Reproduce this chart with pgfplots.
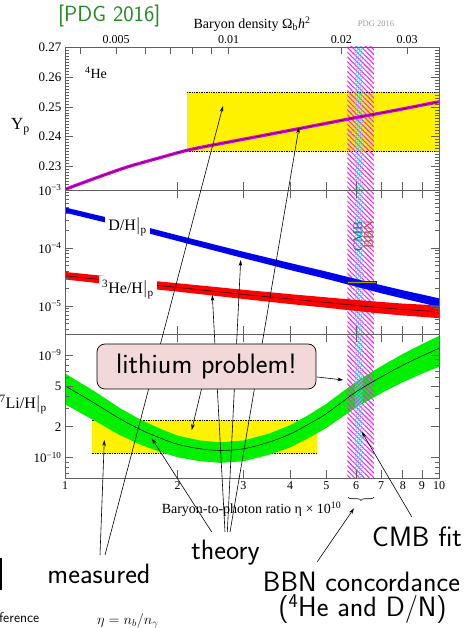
\documentclass[border=0pt]{standalone}
\usepackage{fontspec}
\setmainfont{Liberation Serif}
\usepackage{pgfplots}
\pgfplotsset{compat=1.18}
\usetikzlibrary{patterns.meta,arrows.meta,decorations.pathreplacing}

\definecolor{hatchmag}{RGB}{245,40,245}
\definecolor{hatchcyan}{RGB}{70,215,255}
\definecolor{framegray}{RGB}{95,95,95}
\definecolor{ypmag}{RGB}{215,0,215}
\definecolor{ypdark}{RGB}{110,0,110}
\definecolor{ligreen}{RGB}{0,240,0}
\definecolor{boxpink}{RGB}{242,216,216}
\definecolor{pdggreen}{RGB}{34,139,34}
\definecolor{cmbteal}{RGB}{30,110,140}
\definecolor{bbnbrown}{RGB}{165,85,50}
\definecolor{dholive}{RGB}{165,160,0}

\tikzset{
  hatchBBN/.style={draw=none, pattern={Lines[angle=-45,distance=3.4pt,line width=1.1pt]}, pattern color=hatchmag},
  hatchCMB/.style={draw=none, pattern={Lines[angle=45,distance=2.6pt,line width=0.9pt]}, pattern color=hatchcyan},
}

\begin{document}
\begin{tikzpicture}
\path[use as bounding box] (0,0) rectangle (474pt,628pt);

% ---------------- Top panel: Yp ----------------
\begin{axis}[scale only axis, width=374pt, height=143pt, at={(65pt,438pt)}, anchor=south west,
  xmode=log, xmin=1, xmax=10, ymin=0.2222, ymax=0.27,
  axis on top, axis line style={framegray, line width=0.6pt},
  tick style={framegray, line width=0.6pt}, tick align=inside,
  major tick length=8pt, minor tick length=4pt, scaled y ticks=false,
  yticklabel style={font=\fontsize{13}{15}\selectfont},
  xtick={2,3,4,5,6,7,8,9}, xticklabels={}, xtick pos=left,
  ytick={0.23,0.24,0.25,0.26,0.27}, yticklabels={0.23,0.24,0.25,0.26,0.27},
  minor ytick={0.223,0.224,0.225,0.226,0.227,0.228,0.229,0.231,0.232,0.233,0.234,0.235,0.236,0.237,0.238,0.239,0.241,0.242,0.243,0.244,0.245,0.246,0.247,0.248,0.249,0.251,0.252,0.253,0.254,0.255,0.256,0.257,0.258,0.259,0.261,0.262,0.263,0.264,0.265,0.266,0.267,0.268,0.269}]
\addplot[fill=yellow, draw=none] coordinates {(2.12,0.235) (10,0.235) (10,0.255) (2.12,0.255)};
\addplot[black, densely dotted, line width=0.7pt] coordinates {(2.12,0.255) (10,0.255)};
\addplot[black, densely dotted, line width=0.7pt] coordinates {(2.12,0.235) (10,0.235)};
\addplot[hatchBBN] coordinates {(5.685,0.2222) (6.70,0.2222) (6.70,0.27) (5.685,0.27)};
\addplot[hatchCMB] coordinates {(5.965,0.2222) (6.245,0.2222) (6.245,0.27) (5.965,0.27)};
\addplot[ypmag, line width=3.2pt, smooth] coordinates {(1,0.2224) (1.19,0.2259) (1.46,0.2298) (1.795,0.2330) (2.16,0.2357) (2.76,0.2383) (4.22,0.2427) (6.0,0.2464) (7.7,0.2489) (10,0.2517)};
\addplot[ypdark, line width=0.7pt, smooth] coordinates {(1,0.2224) (1.19,0.2259) (1.46,0.2298) (1.795,0.2330) (2.16,0.2357) (2.76,0.2383) (4.22,0.2427) (6.0,0.2464) (7.7,0.2489) (10,0.2517)};
\end{axis}

% top axis: Omega_b h^2
\begin{axis}[scale only axis, at={(65pt,438pt)}, anchor=south west, width=374pt, height=143pt,
  xmode=log, xmin=1, xmax=10, ymin=0, ymax=1,
  axis x line*=top, axis y line=none,
  axis line style={framegray, line width=0.6pt},
  tick style={framegray, line width=0.6pt}, tick align=inside, major tick length=7pt,
  xtick={1.0956,1.3695,1.6434,1.9173,2.1912,2.4651,2.739,5.478,8.217},
  xticklabels={,0.005,,,,,0.01,0.02,0.03},
  xticklabel style={font=\fontsize{12}{14}\selectfont}]
\addplot[draw=none] coordinates {(1,0.5) (10,0.5)};
\end{axis}

% ---------------- Middle panel: D/H, 3He/H ----------------
\begin{axis}[scale only axis, width=374pt, height=144pt, at={(65pt,294pt)}, anchor=south west,
  xmode=log, xmin=1, xmax=10, ymode=log, ymin=3.29e-6, ymax=1e-3,
  axis on top, axis line style={framegray, line width=0.6pt},
  tick style={framegray, line width=0.6pt}, tick align=inside,
  major tick length=8pt, minor tick length=4pt,
  yticklabel style={font=\fontsize{13}{15}\selectfont},
  xtick={2,3,4,5,6,7,8,9}, xticklabels={},
  ytick={1e-5,1e-4,1e-3}, yticklabels={10\textsuperscript{−5},10\textsuperscript{−4},10\textsuperscript{−3}},
  minor ytick={4e-6,5e-6,6e-6,7e-6,8e-6,9e-6,2e-5,3e-5,4e-5,5e-5,6e-5,7e-5,8e-5,9e-5,2e-4,3e-4,4e-4,5e-4,6e-4,7e-4,8e-4,9e-4}]
\addplot[hatchBBN] coordinates {(5.685,3.29e-6) (6.70,3.29e-6) (6.70,1e-3) (5.685,1e-3)};
\addplot[hatchCMB] coordinates {(5.965,3.29e-6) (6.245,3.29e-6) (6.245,1e-3) (5.965,1e-3)};
% D/H band: upper edge then lower edge reversed
\addplot[fill=blue, draw=none] coordinates {(1,5.01e-4) (1.5,2.68e-4) (2,1.66e-4) (3,8.61e-5) (4,5.50e-5) (5,3.92e-5) (6,2.92e-5) (7,2.29e-5) (8,1.87e-5) (9,1.58e-5) (10,1.355e-5)
  (10,9.59e-6) (9,1.13e-5) (8,1.35e-5) (7,1.66e-5) (6,2.16e-5) (5,2.93e-5) (4,4.17e-5) (3,6.68e-5) (2,1.32e-4) (1.5,2.15e-4) (1,4.07e-4)};
\addplot[black!55!blue, line width=0.5pt, smooth] coordinates {(1,4.52e-4) (1.5,2.40e-4) (2,1.48e-4) (3,7.59e-5) (4,4.79e-5) (5,3.39e-5) (6,2.51e-5) (7,1.95e-5) (8,1.585e-5) (9,1.33e-5) (10,1.14e-5)};
% 3He/H band
\addplot[fill=red, draw=none] coordinates {(1,3.87e-5) (1.5,2.95e-5) (2,2.47e-5) (3,1.905e-5) (4,1.60e-5) (5,1.41e-5) (6,1.27e-5) (7,1.175e-5) (8,1.10e-5) (9,1.06e-5) (10,1.02e-5)
  (10,6.17e-6) (9,6.50e-6) (8,6.87e-6) (7,7.41e-6) (6,8.22e-6) (5,9.33e-6) (4,1.08e-5) (3,1.32e-5) (2,1.77e-5) (1.5,2.14e-5) (1,2.87e-5)};
\addplot[black, line width=0.5pt, smooth] coordinates {(1,3.33e-5) (1.5,2.51e-5) (2,2.09e-5) (3,1.585e-5) (4,1.32e-5) (5,1.15e-5) (6,1.02e-5) (7,9.33e-6) (8,8.71e-6) (9,8.32e-6) (10,7.94e-6)};
% D/H measurement
\addplot[fill=dholive, draw=black!70!dholive, line width=0.5pt] coordinates {(5.685,2.45e-5) (6.80,2.45e-5) (6.80,2.62e-5) (5.685,2.62e-5) (5.685,2.45e-5)};
\end{axis}

% ---------------- Bottom panel: 7Li/H ----------------
\begin{axis}[scale only axis, width=374pt, height=144pt, at={(65pt,150pt)}, anchor=south west,
  xmode=log, xmin=1, xmax=10, ymode=log, ymin=6.34e-11, ymax=1.6e-9,
  axis on top, axis line style={framegray, line width=0.6pt},
  tick style={framegray, line width=0.6pt}, tick align=inside,
  major tick length=8pt, minor tick length=4pt,
  yticklabel style={font=\fontsize{13}{15}\selectfont},
  xticklabel style={font=\fontsize{12}{14}\selectfont},
  xtick={1,2,3,4,5,6,7,8,9,10}, xticklabels={1,2,3,4,5,6,7,8,9,10},
  ytick={1e-10,2e-10,5e-10,1e-9}, yticklabels={10\textsuperscript{−10},2,5,10\textsuperscript{−9}},
  minor ytick={7e-11,8e-11,9e-11,3e-10,4e-10,6e-10,7e-10,8e-10,9e-10}]
\addplot[fill=yellow, draw=none] coordinates {(1.178,1.09e-10) (4.73,1.09e-10) (4.73,2.33e-10) (1.178,2.33e-10)};
\addplot[black, densely dotted, line width=0.7pt] coordinates {(1.178,2.33e-10) (4.73,2.33e-10)};
\addplot[black, densely dotted, line width=0.7pt] coordinates {(1.178,1.09e-10) (4.73,1.09e-10)};
% 7Li band: upper edge then lower edge reversed
\addplot[fill=ligreen, draw=none] coordinates {(1,6.61e-10) (1.2,4.42e-10) (1.4,3.05e-10) (1.6,2.32e-10) (1.8,1.91e-10) (2,1.64e-10) (2.3,1.47e-10) (2.6,1.41e-10) (3,1.47e-10) (3.5,1.71e-10) (4,2.07e-10) (4.5,2.63e-10) (5,3.35e-10) (6,5.50e-10) (7,7.76e-10) (8,1.023e-9) (9,1.274e-9) (10,1.531e-9)
  (10,7.67e-10) (9,6.58e-10) (8,5.43e-10) (7,4.24e-10) (6,3.09e-10) (5,1.95e-10) (4.5,1.57e-10) (4,1.26e-10) (3.5,1.064e-10) (3,9.23e-11) (2.6,8.91e-11) (2.3,9.23e-11) (2,1.01e-10) (1.8,1.135e-10) (1.6,1.33e-10) (1.4,1.66e-10) (1.2,2.29e-10) (1,3.31e-10)};
\addplot[hatchBBN] coordinates {(5.685,6.34e-11) (6.70,6.34e-11) (6.70,1.6e-9) (5.685,1.6e-9)};
\addplot[hatchCMB] coordinates {(5.965,6.34e-11) (6.245,6.34e-11) (6.245,1.6e-9) (5.965,1.6e-9)};
\addplot[black, line width=0.5pt, smooth] coordinates {(1,5.01e-10) (1.2,3.39e-10) (1.4,2.40e-10) (1.6,1.86e-10) (1.8,1.55e-10) (2,1.35e-10) (2.3,1.22e-10) (2.6,1.175e-10) (3,1.22e-10) (3.5,1.41e-10) (4,1.70e-10) (4.5,2.14e-10) (5,2.69e-10) (6,4.37e-10) (7,6.10e-10) (8,7.94e-10) (9,9.77e-10) (10,1.161e-9)};
\end{axis}

% ---------------- Annotations (pixel coordinates, y downward) ----------------
\begin{scope}[x=1pt, y=-1pt, yshift=628pt]
\tikzset{ann/.style={line width=0.6pt, -{Stealth[length=6pt,width=3.6pt]}}}
\node[anchor=base west, inner sep=0, font=\fontsize{14}{16}\selectfont] at (85,79) {\textsuperscript{4}He};
\node[anchor=base, fill=white, inner xsep=3pt, inner ysep=3pt, font=\fontsize{16}{18}\selectfont] at (127.5,231) {D/H$\big|$\textsubscript{p}};
\node[anchor=base, fill=white, inner xsep=3pt, inner ysep=4pt, font=\fontsize{16}{18}\selectfont] at (128,294) {\textsuperscript{3}He/H$\big|$\textsubscript{p}};
\node[rotate=90, inner sep=0, text=cmbteal, font=\fontsize{13.5}{15}\selectfont] at (358,237) {CMB};
\node[rotate=90, inner sep=0, text=bbnbrown, font=\fontsize{13.5}{15}\selectfont] at (368.5,235) {BBN};
\node[anchor=base west, inner sep=0, font=\fontsize{17}{19}\selectfont] at (11,130) {Y\textsubscript{p}};
\node[anchor=base east, inner sep=0, font=\fontsize{16}{18}\selectfont] at (47,409) {\textsuperscript{7}Li/H$\big|$\textsubscript{p}};
\node[anchor=base, inner sep=0, font=\fontsize{14}{16}\selectfont] at (252,28.5) {Baryon density Ω\textsubscript{b}\textit{h}\textsuperscript{2}};
\node[anchor=base, inner sep=0, text=black!40, font=\fontsize{8.5}{10}\selectfont] at (376,27) {PDG 2016};
\node[anchor=base, inner sep=0, font=\fontsize{14}{16}\selectfont] at (251.5,514) {Baryon-to-photon ratio η × 10\textsuperscript{10}};
\node[anchor=base west, inner sep=0, text=pdggreen, font=\fontsize{22}{24}\sffamily] at (58,22) {[PDG 2016]};
\draw[decorate, decoration={brace, mirror, amplitude=3.5pt}, line width=0.6pt] (348,497) -- (374,497);
\draw[ann] (105,555) -- (223,106);
\draw[ann] (100,555) -- (104.3,440);
\draw[ann] (211.7,532) -- (151.7,438.3);
\draw[ann] (225,532) -- (212.3,295);
\draw[ann] (227.3,532) -- (240.7,260);
\draw[ann] (230,532) -- (299,127.3);
\draw[ann] (201.5,389) -- (191.7,430);
\draw[ann] (317,377) -- (343.3,380);
\draw[ann] (411.7,516.7) -- (361.7,431.7);
\draw[ann] (317.3,561.7) -- (354,508.3);
\node[draw=black, line width=0.7pt, fill=boxpink, rounded corners=8pt, minimum width=219pt, minimum height=45pt, inner sep=0, font=\fontsize{28}{30}\sffamily] at (206.5,366.5) {lithium problem!};
\node[anchor=base, inner sep=0, font=\fontsize{28}{30}\sffamily] at (99,584) {measured};
\node[anchor=base, inner sep=0, font=\fontsize{28}{30}\sffamily] at (225.5,560) {theory};
\node[anchor=base west, inner sep=0, font=\fontsize{28}{30}\sffamily] at (372,547) {CMB fit};
\node[anchor=base, inner sep=0, font=\fontsize{28}{30}\sffamily] at (361.5,592) {BBN concordance};
\node[anchor=base, inner sep=0, font=\fontsize{28}{30}\sffamily] at (362.5,617) {(\textsuperscript{4}He and D/N)};
\node[anchor=base east, inner sep=0, font=\fontsize{14}{16}\sffamily] at (39.5,622.5) {Reference};
\node[anchor=base west, inner sep=0, font=\fontsize{14}{16}\selectfont] at (97,624) {$\eta = n_b/n_\gamma$};
\draw[line width=1.8pt] (0.9,558) -- (0.9,590);
\end{scope}
\end{tikzpicture}
\end{document}
